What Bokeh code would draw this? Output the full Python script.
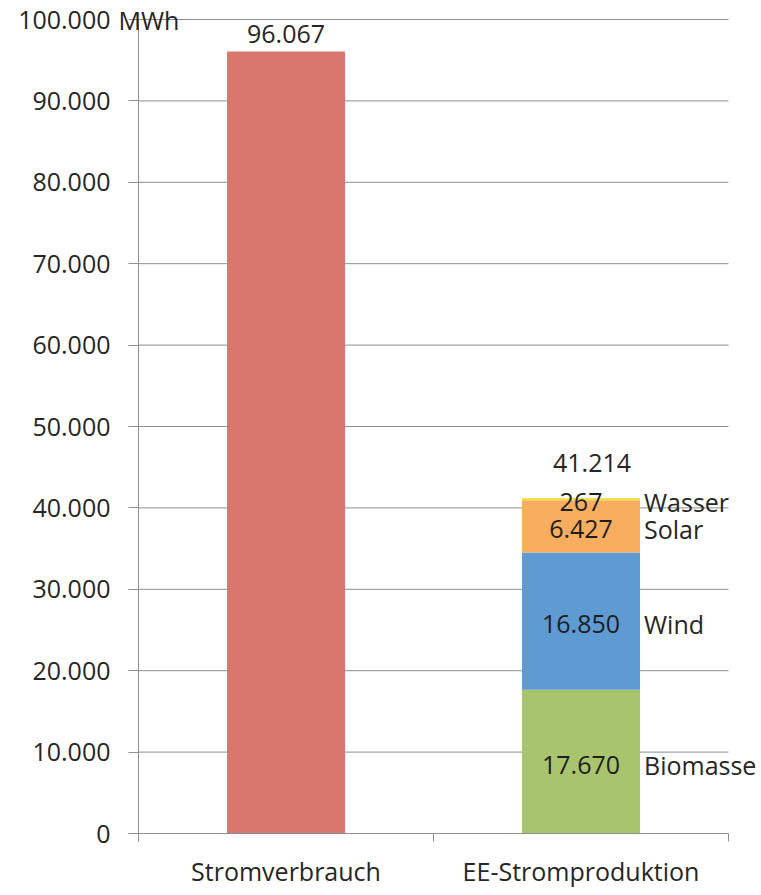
from bokeh.plotting import figure
from bokeh.models import ColumnDataSource, Range1d, FixedTicker, Label
from bokeh.embed import file_html
from bokeh.resources import INLINE

# ---- data ----
categories = ["Stromverbrauch", "EE-Stromproduktion"]
consumption = [96067]
sources = ["Biomasse", "Wind", "Solar", "Wasser"]
production = [17670, 16850, 6427, 267]
source_colors = ["#A8C56D", "#5E9BD3", "#F8AE5E", "#F4E04D"]
y_ticks = [0, 10000, 20000, 30000, 40000, 50000, 60000, 70000, 80000, 90000, 100000]
y_unit = "MWh"

FONT = "Open Sans"
TXT = "#262626"
GRID = "#8E8E8E"
FS = "25px"

# ---- layout (pixels) ----
W, H = 761, 895
AX_L, AX_R = 138, 728      # x pixel of first / last category boundary
Y0, YTOP = 833, 19         # pixel of y=0 and of top tick


def fmt(v):
    return f"{v:,}".replace(",", ".")


n = len(categories)
ymax = y_ticks[-1]
ux = (AX_R - AX_L) / n
uy = (Y0 - YTOP) / ymax
x_range = Range1d(-AX_L / ux, n + (W - AX_R) / ux)
y_range = Range1d(-(H - Y0) / uy, ymax + YTOP / uy)

p = figure(width=W, height=H, output_backend="svg", toolbar_location=None,
           x_range=x_range, y_range=y_range,
           min_border_left=0, min_border_right=0, min_border_top=0,
           min_border_bottom=0, outline_line_color=None)
p.background_fill_color = "white"
p.border_fill_color = "white"

bar_w = 0.4
x_cons = 0.5
x_prod = 1.5

# gridlines limited to the category span
p.xgrid.visible = False
p.ygrid.visible = False
p.segment(x0=[0] * len(y_ticks), x1=[n] * len(y_ticks), y0=y_ticks, y1=y_ticks,
          line_color=GRID, line_width=1, level="underlay")

# consumption bar
src_c = ColumnDataSource(dict(x=[x_cons], top=consumption))
p.vbar(x="x", top="top", width=bar_w, source=src_c, fill_color="#D9766E", line_color=None)

# stacked production bar
bottoms, tops = [], []
acc = 0
for v in production:
    bottoms.append(acc)
    acc += v
    tops.append(acc)
total = acc
src_p = ColumnDataSource(dict(x=[x_prod] * len(production), bottom=bottoms, top=tops,
                              color=source_colors))
p.vbar(x="x", bottom="bottom", top="top", width=bar_w, source=src_p,
       fill_color="color", line_color=None)

# ---- axes ----
ya = p.yaxis[0]
ya.fixed_location = 0
ya.bounds = (0, ymax)
ya.ticker = FixedTicker(ticks=y_ticks, minor_ticks=[])
ya.major_label_overrides = {t: fmt(t) for t in y_ticks}
ya.axis_line_color = GRID
ya.major_tick_line_color = GRID
ya.major_tick_out = 10
ya.major_tick_in = 0
ya.minor_tick_line_color = None
ya.major_label_standoff = 18
ya.major_label_text_font = FONT
ya.major_label_text_font_size = FS
ya.major_label_text_color = TXT

xa = p.xaxis[0]
centers = [i + 0.5 for i in range(n)]
bounds = [float(i) for i in range(n + 1)]
xa.fixed_location = 0
xa.bounds = (0, n)
xa.ticker = FixedTicker(ticks=centers, minor_ticks=bounds)
xa.major_label_overrides = {c: name for c, name in zip(centers, categories)}
xa.axis_line_color = GRID
xa.major_tick_line_color = None
xa.minor_tick_line_color = GRID
xa.minor_tick_out = 8
xa.minor_tick_in = 0
xa.major_label_standoff = 12
xa.major_label_text_font = FONT
xa.major_label_text_font_size = FS
xa.major_label_text_color = TXT

# unit next to top tick label
p.add_layout(Label(x=0, y=ymax, x_offset=-20, text=y_unit, text_font=FONT,
                   text_font_size=FS, text_color=TXT, text_baseline="middle",
                   text_align="left"))


# ---- data labels ----
def lab(x, y, text, xo=0, yo=0, align="center", color=TXT):
    p.add_layout(Label(x=x, y=y, x_offset=xo, y_offset=yo, text=text, text_font=FONT,
                       text_font_size=FS, text_color=color, text_align=align,
                       text_baseline="middle"))


lab(x_cons, consumption[0], fmt(consumption[0]), yo=18)
lab(x_prod, total, fmt(total), xo=11, yo=35)

for name, v, b, t in zip(sources, production, bottoms, tops):
    if v < 1000:
        y, yo = t, -4
    else:
        y, yo = (b + t) / 2, -3
    lab(x_prod, y, fmt(v), yo=yo, color="#1E1E1E")
    lab(x_prod + bar_w / 2, y, name, xo=4, yo=yo, align="left")

open("out.html", "w").write(file_html(p, INLINE))
